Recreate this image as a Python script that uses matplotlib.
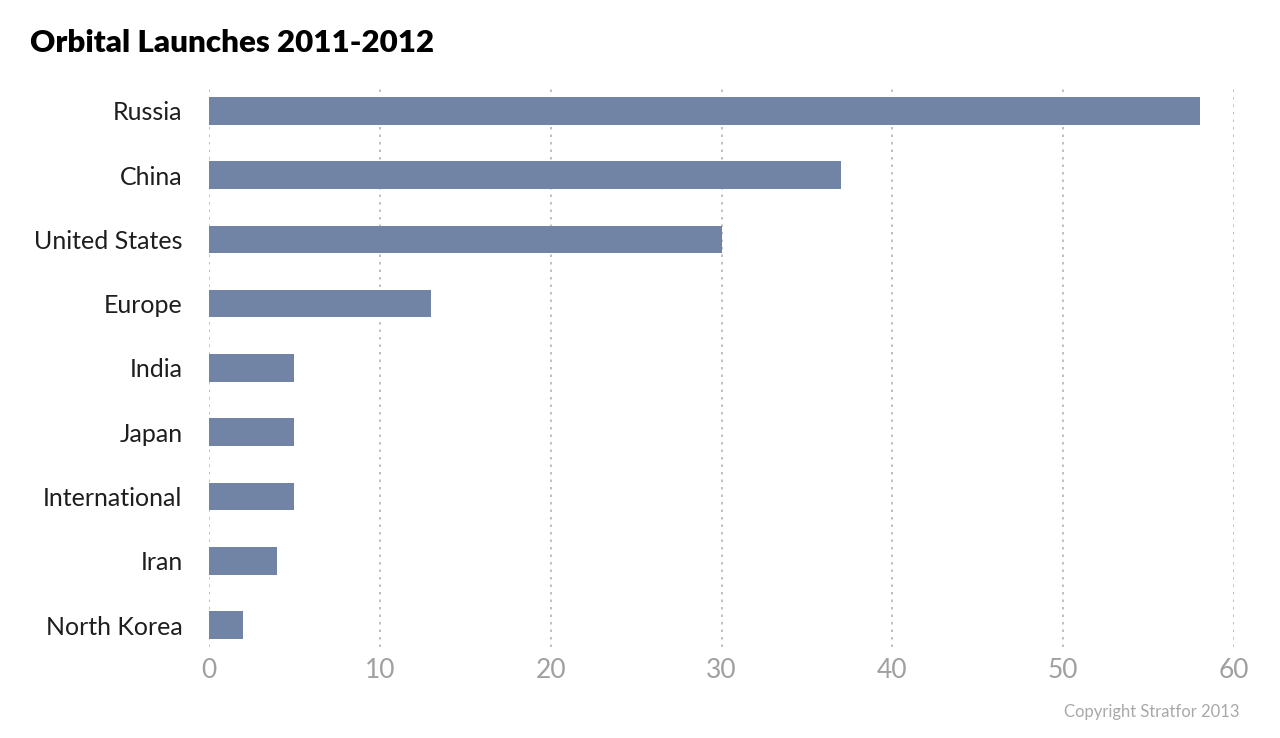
import matplotlib
matplotlib.use('Agg')
import matplotlib.pyplot as plt

# --- 数据 ---
countries = ['Russia', 'China', 'United States', 'Europe', 'India',
             'Japan', 'International', 'Iran', 'North Korea']
launches = [58, 37, 30, 13, 5, 5, 5, 4, 2]
x_ticks = [0, 10, 20, 30, 40, 50, 60]

bar_color = '#7184a5'
grid_color = '#b5b5b5'

plt.rcParams['font.family'] = ['Lato', 'DejaVu Sans']

fig = plt.figure(figsize=(12.8, 7.38), dpi=100)
ax = fig.add_axes([209 / 1280, 1 - 647 / 738, (1234 - 209) / 1280, (647 - 85) / 738])

y_pos = range(len(countries))
ax.barh(y_pos, launches, height=0.43, color=bar_color, linewidth=0, zorder=3)

ax.set_xlim(0, 60)
ax.set_ylim(8.34, -0.40)

ax.set_xticks(x_ticks)
ax.set_xticklabels([str(t) for t in x_ticks], fontsize=19, color='#a0a0a0',
                   fontweight='normal')
ax.set_yticks(list(y_pos))
ax.set_yticklabels(countries, fontsize=18, color='#1e1e1e', fontweight='normal')
ax.tick_params(axis='x', length=0, pad=8)
ax.tick_params(axis='y', length=0, pad=19)

# 网格: 竖向虚线
ax.grid(axis='x', linestyle=(0, (1.5, 3)), color=grid_color, linewidth=1.2, zorder=0)
ax.grid(axis='y', visible=False)
for s in ax.spines.values():
    s.set_visible(False)

fig.text(30 / 1280, 1 - 43 / 738, 'Orbital Launches 2011-2012', fontsize=22.5,
         fontweight='heavy', color='black', va='center', ha='left')
fig.text(1240 / 1280, 1 - 712 / 738, 'Copyright Stratfor 2013', fontsize=12,
         fontweight='normal', color='#a8a8a8', va='center', ha='right')

fig.savefig('out.png', dpi=100)
